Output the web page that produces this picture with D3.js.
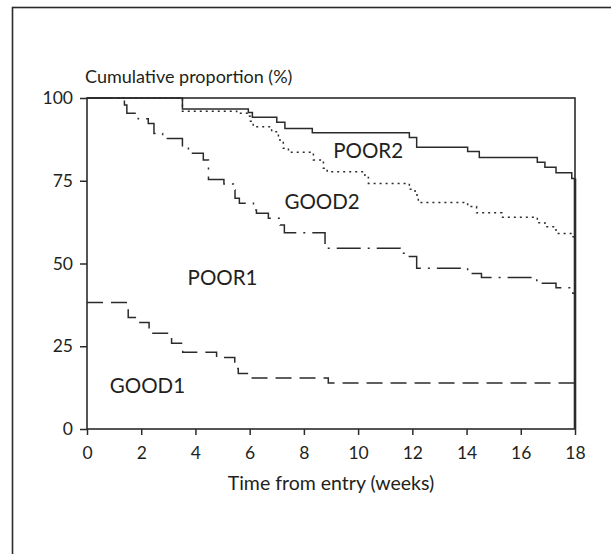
<!DOCTYPE html>
<html>
<head>
<meta charset="utf-8">
<script src="https://cdn.jsdelivr.net/npm/d3@7"></script>
<style>
  html, body { margin: 0; padding: 0; background: #fff; }
  svg { display: block; }
  text { font-family: Lato, "Open Sans", "DejaVu Sans", sans-serif; fill: #231f20; }
</style>
</head>
<body>
<svg id="chart" width="611" height="554"></svg>
<script>
// ---- data ----
const xTicks = [0, 2, 4, 6, 8, 10, 12, 14, 16, 18];
const yTicks = [0, 25, 50, 75, 100];

const poor2Times  = [0, 3.52, 5.95, 6.1, 7.0, 7.3, 8.31, 11.89, 12.16, 14.04, 14.47, 16.61, 16.89, 17.3, 17.88];
const poor2Values = [100, 96.7, 95.6, 94.2, 92.7, 90.8, 89.5, 88.1, 85.1, 83.8, 82.0, 80.6, 79.1, 77.4, 75.7];

const good2Times  = [0, 3.52, 5.52, 5.95, 6.03, 6.13, 6.81, 7.06, 7.24, 7.43, 8.35, 8.72, 8.86, 10.25, 10.38, 11.89, 12.1, 12.22, 14.04, 14.37, 15.3, 16.61, 16.89, 17.3, 17.88];
const good2Values = [100, 96.0, 95.4, 94.5, 93.0, 91.3, 89.8, 87.3, 84.8, 83.6, 81.3, 78.8, 77.7, 76.0, 74.2, 72.4, 70.7, 68.4, 67.2, 65.3, 64.0, 62.3, 61.1, 59.1, 58.1];

const poor1Times  = [0, 1.38, 1.47, 1.89, 2.26, 2.47, 2.79, 3.52, 3.74, 4.29, 4.48, 5.05, 5.40, 5.46, 5.62, 6.14, 6.25, 6.69, 7.12, 7.28, 8.78, 11.55, 11.89, 12.16, 14.04, 14.55, 16.59, 17.3, 17.92];
const poor1Values = [100, 97.9, 95.4, 93.7, 92.3, 89.3, 87.8, 84.8, 83.3, 81.3, 75.4, 74.0, 72.2, 69.7, 68.2, 66.2, 65.2, 63.7, 61.6, 59.3, 54.6, 53.1, 52.1, 48.6, 47.0, 45.8, 44.0, 42.7, 41.0];

const good1Times  = [0, 1.52, 1.89, 2.29, 3.12, 3.53, 4.78, 5.45, 5.58, 6.01, 8.9];
const good1Values = [38.2, 33.7, 32.2, 28.9, 25.9, 23.2, 21.6, 18.3, 16.8, 15.4, 13.9];

const seriesNames = ["POOR2", "GOOD2", "POOR1", "GOOD1"];
const endTime = 18;

// ---- drawing ----
const svg = d3.select("#chart");
const ink = "#2b2b2b";

// outer frame (runs off the right and bottom edges)
svg.append("rect")
  .attr("x", 12.5).attr("y", 7.5).attr("width", 700).attr("height", 700)
  .attr("fill", "none").attr("stroke", ink).attr("stroke-width", 1.6);

const x = d3.scaleLinear().domain([0, 18]).range([87, 575]);
const y = d3.scaleLinear().domain([0, 100]).range([429, 98]);

// axes
const gy = svg.append("g").attr("transform", `translate(${x(0)},0)`)
  .call(d3.axisLeft(y).tickValues(yTicks).tickSize(7).tickSizeOuter(0).tickPadding(7).tickFormat(d3.format("d")));
const gx = svg.append("g").attr("transform", `translate(0,${y(0)})`)
  .call(d3.axisBottom(x).tickValues(xTicks).tickSize(6).tickSizeOuter(0).tickPadding(12).tickFormat(d3.format("d")));
[gx, gy].forEach(g => {
  g.select(".domain").remove();
  g.selectAll(".tick line").attr("stroke", ink).attr("stroke-width", 1.5);
  g.selectAll(".tick text").attr("font-size", 17.5).style("font-family", "Lato, 'Open Sans', sans-serif").attr("fill", "#231f20");
});

// plot frame
svg.append("rect")
  .attr("x", x(0)).attr("y", y(100)).attr("width", x(18) - x(0)).attr("height", y(0) - y(100))
  .attr("fill", "none").attr("stroke", ink).attr("stroke-width", 1.6);

const line = d3.line().x(d => x(d[0])).y(d => y(d[1])).curve(d3.curveStepAfter);
function pts(ts, vs) {
  const p = ts.map((t, i) => [t, vs[i]]);
  p.push([endTime, vs[vs.length - 1]]);
  return p;
}

const series = [
  { name: seriesNames[0], data: pts(poor2Times, poor2Values), dash: null },
  { name: seriesNames[1], data: pts(good2Times, good2Values), dash: "2,4" },
  { name: seriesNames[2], data: pts(poor1Times, poor1Values), dash: "24,7,2,7" },
  { name: seriesNames[3], data: pts(good1Times, good1Values), dash: "16,8" }
];

series.forEach(s => {
  svg.append("path")
    .attr("d", line(s.data))
    .attr("fill", "none")
    .attr("stroke", ink)
    .attr("stroke-width", 1.5)
    .attr("stroke-dasharray", s.dash);
});

// heavier right edge below the last POOR2 value
svg.append("line")
  .attr("x1", x(18)).attr("x2", x(18))
  .attr("y1", y(poor2Values[poor2Values.length - 1])).attr("y2", y(0))
  .attr("stroke", ink).attr("stroke-width", 2.6);

// curve labels
const labelPos = [
  { name: seriesNames[0], t: 10.37, v: 81.9 },
  { name: seriesNames[1], t: 8.67,  v: 66.5 },
  { name: seriesNames[2], t: 5.0,   v: 43.5 },
  { name: seriesNames[3], t: 2.23,  v: 10.9 }
];
svg.selectAll(".clabel").data(labelPos).enter().append("text")
  .attr("class", "clabel")
  .attr("x", d => x(d.t)).attr("y", d => y(d.v))
  .attr("text-anchor", "middle")
  .attr("font-size", 20.5)
  .text(d => d.name);

// axis titles
svg.append("text").attr("x", 85).attr("y", 83).attr("font-size", 18)
  .text("Cumulative proportion (%)");
svg.append("text").attr("x", (x(0) + x(18)) / 2).attr("y", 490).attr("text-anchor", "middle")
  .attr("font-size", 19.5).text("Time from entry (weeks)");
</script>
</body>
</html>
